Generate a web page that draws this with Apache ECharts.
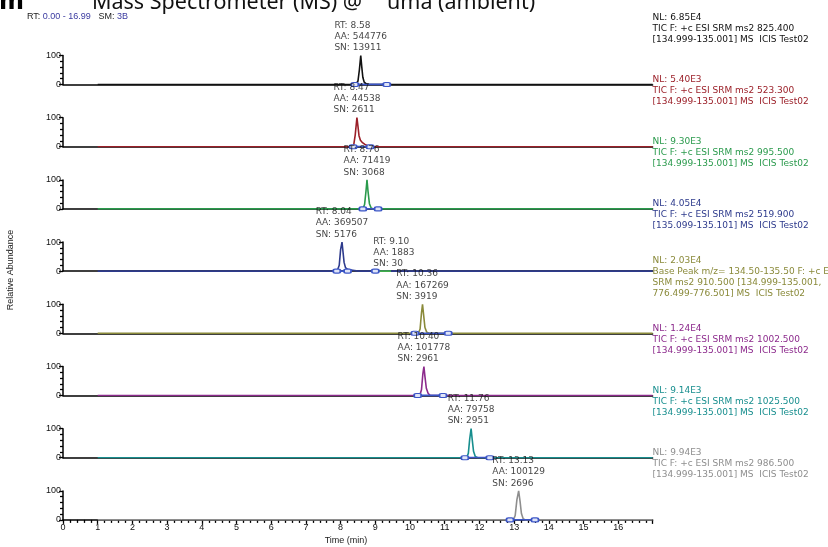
<!DOCTYPE html>
<html><head><meta charset="utf-8">
<script src="https://cdn.jsdelivr.net/npm/echarts@6/dist/echarts.min.js"></script>
<style>html,body{margin:0;padding:0;background:#fff}#c{width:828px;height:547px}</style>
</head><body><div id="c"></div>
<script>
// ---------- data ----------
const timeMin = 0, timeMax = 16.99;
const yTickLabels = ['0', '100'];

const trace1 = [[1.0,0],[8.44,0],[8.50,12],[8.54,50],[8.58,100],[8.61,60],[8.64,25],[8.68,8],[8.74,2],[8.82,0],[16.99,0]];
const trace2 = [[1.0,0],[8.37,0],[8.42,40],[8.47,100],[8.50,70],[8.53,38],[8.57,22],[8.62,15],[8.70,8],[8.78,3],[8.86,0],[16.99,0]];
const trace3 = [[1.0,0],[8.64,0],[8.69,15],[8.73,60],[8.76,100],[8.79,60],[8.83,18],[8.88,3],[8.94,0],[16.99,0]];
const trace4 = [[1.0,0],[7.90,0],[7.96,20],[8.00,75],[8.04,100],[8.07,65],[8.10,30],[8.14,12],[8.20,6],[8.30,4],[8.40,2],[8.50,0],[9.05,0],[9.10,1],[9.20,0],[16.99,0]];
const trace5 = [[1.0,0],[10.24,0],[10.29,15],[10.33,70],[10.36,100],[10.39,65],[10.43,20],[10.48,4],[10.55,0],[16.99,0]];
const trace6 = [[1.0,0],[10.28,0],[10.33,20],[10.37,75],[10.40,100],[10.43,65],[10.47,25],[10.52,8],[10.58,0],[16.99,0]];
const trace7 = [[1.0,0],[11.63,0],[11.68,15],[11.72,65],[11.76,100],[11.79,65],[11.83,22],[11.88,4],[11.95,0],[16.99,0]];
const trace8 = [[1.0,0],[12.98,0],[13.03,15],[13.08,70],[13.13,100],[13.17,65],[13.21,22],[13.26,4],[13.32,0],[16.99,0]];
const traces = [trace1, trace2, trace3, trace4, trace5, trace6, trace7, trace8];

const peakRT = [8.58, 8.47, 8.76, 8.04, 10.36, 10.40, 11.76, 13.13];
const peakAA = [544776, 44538, 71419, 369507, 167269, 101778, 79758, 100129];
const peakSN = [13911, 2611, 3068, 5176, 3919, 2961, 2951, 2696];
const integStart = [8.41, 8.36, 8.64, 7.89, 10.14, 10.22, 11.58, 12.88];
const integEnd   = [9.33, 8.85, 9.08, 8.20, 11.10, 10.95, 12.30, 13.60];

// small second peak in panel 4
const minorPeak = { panel: 3, rt: 9.10, aa: 1883, sn: 30, height: 1, start: 9.00, end: 9.45 };

const nlLabels = ['NL: 6.85E4','NL: 5.40E3','NL: 9.30E3','NL: 4.05E4','NL: 2.03E4','NL: 1.24E4','NL: 9.14E3','NL: 9.94E3'];
const scanLines = [
  ['TIC F: +c ESI SRM ms2 825.400', '[134.999-135.001] MS  ICIS Test02'],
  ['TIC F: +c ESI SRM ms2 523.300', '[134.999-135.001] MS  ICIS Test02'],
  ['TIC F: +c ESI SRM ms2 995.500', '[134.999-135.001] MS  ICIS Test02'],
  ['TIC F: +c ESI SRM ms2 519.900', '[135.099-135.101] MS  ICIS Test02'],
  ['Base Peak m/z= 134.50-135.50 F: +c ESI', 'SRM ms2 910.500 [134.999-135.001,', '776.499-776.501] MS  ICIS Test02'],
  ['TIC F: +c ESI SRM ms2 1002.500', '[134.999-135.001] MS  ICIS Test02'],
  ['TIC F: +c ESI SRM ms2 1025.500', '[134.999-135.001] MS  ICIS Test02'],
  ['TIC F: +c ESI SRM ms2 986.500', '[134.999-135.001] MS  ICIS Test02']
];
const traceColors = ['#111111','#9b1f28','#2a9a4c','#2d3a8c','#8a8a3a','#8c2a8c','#178e8e','#8e8e8e'];
const integColor = '#3b55c6';
const minorIntegColor = '#3fae4a';

// ---------- layout ----------
const LEFT = 63, RIGHT_X = 652.6, BASE0 = 84.5, STEP = 62.2, PH = 29;
const labelFont = 'DejaVu Sans';
const axisFont = 'Liberation Sans';

const grids = [], xAxes = [], yAxes = [], series = [], graphics = [];
for (let i = 0; i < 8; i++) {
  const base = BASE0 + STEP * i;
  const isLast = i === 7;
  grids.push({ left: LEFT, width: RIGHT_X - LEFT, top: base - PH, height: PH });
  xAxes.push({
    type: 'value', gridIndex: i, min: timeMin, max: timeMax, interval: 1,
    axisLine: { show: true, onZero: false, lineStyle: { color: '#000', width: 1.5 } },
    axisTick: { show: isLast, length: 4, lineStyle: { color: '#000', width: 1.3 } },
    minorTick: { show: isLast, splitNumber: 5, length: 3, lineStyle: { color: '#000', width: 1.3 } },
    axisLabel: { show: isLast, showMaxLabel: false, fontSize: 9, fontFamily: axisFont, color: '#111', margin: 3 },
    splitLine: { show: false }, minorSplitLine: { show: false }
  });
  yAxes.push({
    type: 'value', gridIndex: i, min: 0, max: 100, interval: 100,
    axisLine: { show: true, lineStyle: { color: '#000', width: 1.5 } },
    axisTick: { show: true, length: 4, lineStyle: { color: '#000', width: 1.3 } },
    minorTick: { show: true, splitNumber: 5, length: 3, lineStyle: { color: '#000', width: 1.3 } },
    axisLabel: { fontSize: 9, fontFamily: axisFont, color: '#111', margin: 2,
      formatter: v => (v === 0 ? yTickLabels[0] : yTickLabels[1]) },
    splitLine: { show: false }, minorSplitLine: { show: false }
  });
  series.push({
    type: 'line', xAxisIndex: i, yAxisIndex: i, data: traces[i], showSymbol: false,
    lineStyle: { color: traceColors[i], width: 1.6 }, z: 3, silent: true
  });
  series.push({
    type: 'line', xAxisIndex: i, yAxisIndex: i, data: [[integStart[i], 0], [integEnd[i], 0]],
    symbol: 'roundRect', symbolSize: [7, 4], showSymbol: true,
    itemStyle: { color: '#dfe4f7', borderColor: integColor, borderWidth: 1.4 },
    lineStyle: { color: integColor, width: 1.8 }, z: 4, silent: true
  });
  const aaLen = String(peakAA[i]).length;
  series.push({
    type: 'scatter', xAxisIndex: i, yAxisIndex: i, data: [[peakRT[i], 100]],
    symbolSize: 0.1, itemStyle: { color: 'rgba(0,0,0,0)' }, z: 5, silent: true,
    label: {
      show: true, position: [-(18.2 + 5.73 * aaLen) / 2, -2], align: 'left', verticalAlign: 'bottom',
      fontSize: 9, fontFamily: labelFont, color: '#111', lineHeight: 11.3,
      formatter: () => `RT: ${peakRT[i].toFixed(2)}\nAA: ${peakAA[i]}\nSN: ${peakSN[i]}`
    }
  });
  // right-hand info block
  const lines = [nlLabels[i]].concat(scanLines[i]);
  graphics.push({
    type: 'text', x: 652.5, y: base - 56, silent: true,
    style: { text: lines.join('\n'), fill: traceColors[i],
      font: `9px "${labelFont}"`, lineHeight: 11, verticalAlign: 'middle', align: 'left' }
  });
}

// minor peak in panel 4
const mp = minorPeak.panel;
series.push({
  type: 'line', xAxisIndex: mp, yAxisIndex: mp,
  data: [[minorPeak.start, 0], { value: [minorPeak.end, 0], symbol: 'none' }],
  symbol: 'roundRect', symbolSize: [7, 4], showSymbol: true,
  itemStyle: { color: '#dfe4f7', borderColor: integColor, borderWidth: 1.4 },
  lineStyle: { color: minorIntegColor, width: 1.8 }, z: 4, silent: true
});
series.push({
  type: 'scatter', xAxisIndex: mp, yAxisIndex: mp, data: [[minorPeak.rt, minorPeak.height]],
  symbolSize: 0.1, itemStyle: { color: 'rgba(0,0,0,0)' }, z: 5, silent: true,
  label: {
    show: true, position: [-5.5, -1], align: 'left', verticalAlign: 'bottom',
    fontSize: 9, fontFamily: labelFont, color: '#111', lineHeight: 11.3,
    formatter: () => `RT: ${minorPeak.rt.toFixed(2)}\nAA: ${minorPeak.aa}\nSN: ${minorPeak.sn}`
  }
});

// header texts
graphics.push({
  type: 'text', x: -1, y: 3, silent: true,
  style: { text: 'm', font: 'bold 24px "DejaVu Sans"', fill: '#000', verticalAlign: 'middle' }
});
graphics.push({
  type: 'text', x: 92, y: 2.6, silent: true,
  style: { text: 'Mass Spectrometer (MS) @   "uma (ambient)', font: '21.5px "Noto Sans"', fill: '#111', verticalAlign: 'middle' }
});
graphics.push({
  type: 'text', x: 27, y: 16.5, silent: true,
  style: {
    text: '{k|RT:} {v|0.00 - 16.99}   {k|SM:} {v|3B}', verticalAlign: 'middle',
    font: `9px "${axisFont}"`,
    rich: { k: { fill: '#222', font: `9px "${axisFont}"` }, v: { fill: '#3a3aa0', font: `9px "${axisFont}"` } }
  }
});
graphics.push({
  type: 'text', x: 11, y: 270, rotation: Math.PI / 2, silent: true,
  style: { text: 'Relative Abundance', font: `9px "${axisFont}"`, fill: '#222', align: 'center', verticalAlign: 'middle' }
});
graphics.push({
  type: 'text', x: 346, y: 541, silent: true,
  style: { text: 'Time (min)', font: `9px "${axisFont}"`, fill: '#222', align: 'center', verticalAlign: 'middle' }
});

const chart = echarts.init(document.getElementById('c'), null, { renderer: 'canvas' });
chart.setOption({
  animation: false,
  backgroundColor: '#fff',
  grid: grids, xAxis: xAxes, yAxis: yAxes, series: series, graphic: graphics
});
</script></body></html>
